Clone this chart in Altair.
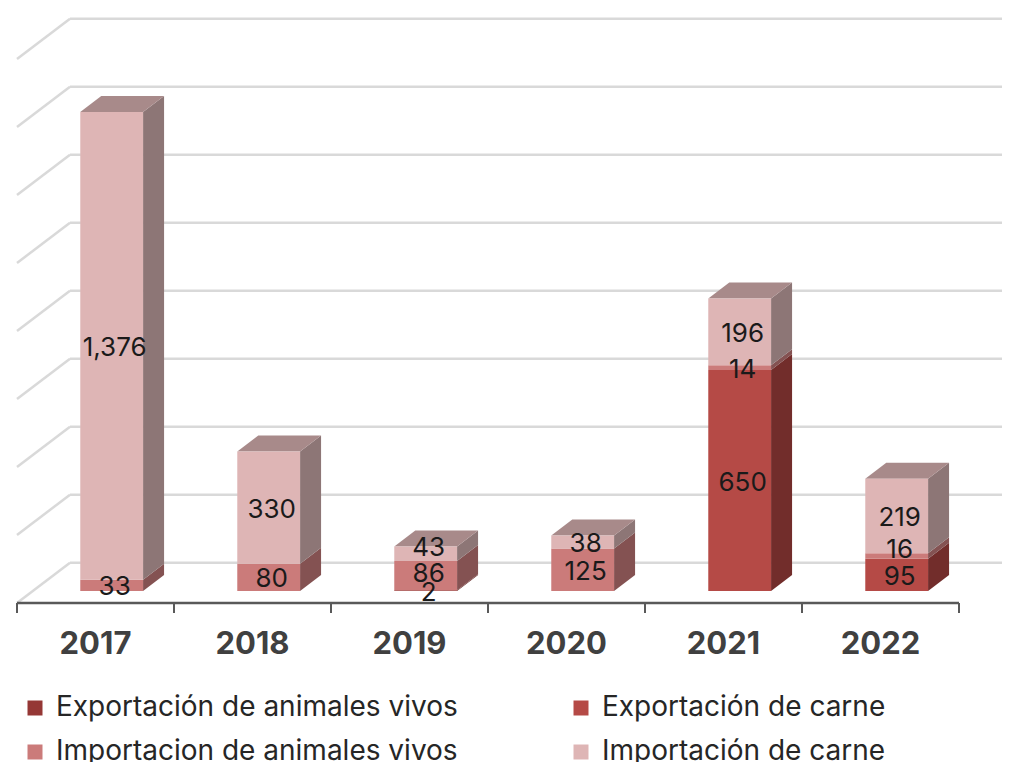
import altair as alt
import pandas as pd

years = ["2017", "2018", "2019", "2020", "2021", "2022"]
series = ["Exportación de animales vivos", "Exportación de carne",
          "Importacion de animales vivos", "Importación de carne"]
exp_vivos = [0, 0, 2, 0, 0, 0]
exp_carne = [0, 0, 0, 0, 650, 95]
imp_vivos = [33, 80, 86, 125, 14, 16]
imp_carne = [1376, 330, 43, 38, 196, 219]
front_colors = ["#953735", "#B54A46", "#CB7B7A", "#DEB5B5"]
side_colors = ["#652523", "#722D2B", "#845252", "#8D7676"]
top_colors = ["#803230", "#8F3F3C", "#A06A6A", "#A88A8A"]
grid_values = [0, 200, 400, 600, 800, 1000, 1200, 1400, 1600]
label_shift = {("2019", 43): 23, ("2019", 86): 10, ("2022", 16): 24}

FONT = "Inter"
PX = 0.34                 # pixels per unit of value
CAT = 157.0               # pixels per category
X0, Y0 = 17.0, 591.0      # page position of category 0 / value 0
W, H = 994, 754
BAR_C, BAR_HALF = 0.603, 0.2
DX, DY = 21 / CAT, 16 / PX          # bar depth
WALL_DX, WALL_DY = 53 / CAT, 28.3 / PX   # back wall relative to the left edge, value 0
FLOOR_DY = -12 / PX       # axis line below value 0
LABEL_DX = 3 / CAT

xs = alt.Scale(domain=[(8 - X0) / CAT, (8 + W - X0) / CAT], nice=False, zero=False)
ys = alt.Scale(domain=[(Y0 - (8 + H)) / PX, (Y0 - 8) / PX], nice=False, zero=False)

rows = []
tops = []
sides = []
labels = []
table = [exp_vivos, exp_carne, imp_vivos, imp_carne]
for i, yr in enumerate(years):
    base = 0
    l, r = i + BAR_C - BAR_HALF, i + BAR_C + BAR_HALF
    top_color = None
    for s, name in enumerate(series):
        v = table[s][i]
        if v == 0:
            continue
        rows.append(dict(x=l, x2=r, y=base, y2=base + v, serie=name))
        key = f"{yr}-{s}"
        sides += [dict(k=key, x=r, y=base, y2=base + v, c=side_colors[s]),
                  dict(k=key, x=r + DX, y=base + DY, y2=base + v + DY, c=side_colors[s])]
        labels.append(dict(x=i + BAR_C + LABEL_DX,
                           y=base + v / 2 + label_shift.get((yr, v), 0) - 6,
                           t=f"{v:,}"))
        base += v
        top_color = top_colors[s]
    k = f"{yr}-top"
    tops += [dict(k=k, x=l, y=base, y2=base, c=top_color),
             dict(k=k, x=l + DX, y=base, y2=base + DY, c=top_color),
             dict(k=k, x=r, y=base, y2=base + DY, c=top_color),
             dict(k=k, x=r + DX, y=base + DY, y2=base + DY, c=top_color)]

wall = []
diag = []
for g in grid_values:
    wall.append(dict(x=WALL_DX, x2=(8 + W - X0) / CAT, y=g + WALL_DY))
    diag += [dict(k=g, x=0, y=g + FLOOR_DY),
             dict(k=g, x=WALL_DX, y=g + WALL_DY)]

X = lambda f="x": alt.X(f"{f}:Q", scale=xs, axis=None)
Y = lambda f="y": alt.Y(f"{f}:Q", scale=ys, axis=None)

grid = alt.Chart(pd.DataFrame(wall)).mark_rule(color="#D9D9D9", strokeWidth=2.5).encode(
    x=X(), x2="x2:Q", y=Y())
diagonals = alt.Chart(pd.DataFrame(diag)).mark_line(color="#D9D9D9", strokeWidth=2.5).encode(
    x=X(), y=Y(), detail="k:N")

axis_df = pd.DataFrame({"x": [0.0], "x2": [float(len(years))], "y": [FLOOR_DY]})
axis_line = alt.Chart(axis_df).mark_rule(color="#595959", strokeWidth=2.5).encode(
    x=X(), x2="x2:Q", y=Y())
tick_df = pd.DataFrame({"x": list(range(len(years) + 1))})
tick_df["y"] = FLOOR_DY
tick_df["y2"] = FLOOR_DY - 10 / PX
axis_ticks = alt.Chart(tick_df).mark_rule(color="#595959", strokeWidth=2).encode(
    x=X(), y=Y(), y2="y2:Q")
year_df = pd.DataFrame({"x": [i + 0.5 for i in range(len(years))], "t": years})
year_labels = alt.Chart(year_df).mark_text(
    font=FONT, fontWeight="bold", fontSize=31, color="#404040", baseline="middle"
).encode(x=X(), y=alt.value(637), text="t:N")

side_layer = alt.Chart(pd.DataFrame(sides)).mark_area(opacity=1).encode(
    x=X(), y=Y(), y2="y2:Q", detail="k:N", color=alt.Color("c:N", scale=None))
top_layer = alt.Chart(pd.DataFrame(tops)).mark_area(opacity=1).encode(
    x=X(), y=Y(), y2="y2:Q", detail="k:N", color=alt.Color("c:N", scale=None))
front = alt.Chart(pd.DataFrame(rows)).mark_rect().encode(
    x=X(), x2="x2:Q", y=Y(), y2="y2:Q",
    color=alt.Color("serie:N",
                    scale=alt.Scale(domain=series, range=front_colors),
                    sort=series,
                    legend=alt.Legend(
                        title=None, orient="none", legendX=13, legendY=686, columns=2,
                        direction="horizontal",
                        symbolType="square", symbolSize=225, symbolStrokeWidth=0,
                        labelFont=FONT, labelFontSize=28, labelColor="#262626",
                        labelLimit=600, columnPadding=109, rowPadding=16,
                        symbolOffset=0, labelOffset=7)))
value_labels = alt.Chart(pd.DataFrame(labels)).mark_text(
    font=FONT, fontSize=26, color="#1a1a1a", baseline="middle"
).encode(x=X(), y=Y(), text="t:N")

chart = alt.layer(grid, diagonals, axis_line, axis_ticks, side_layer, top_layer, front,
                  value_labels, year_labels).properties(
    width=W, height=H, padding=0, autosize=alt.AutoSizeParams(type="none")
).configure_view(stroke=None)
chart.save("out.html", embed_options={"renderer": "svg", "actions": False})
